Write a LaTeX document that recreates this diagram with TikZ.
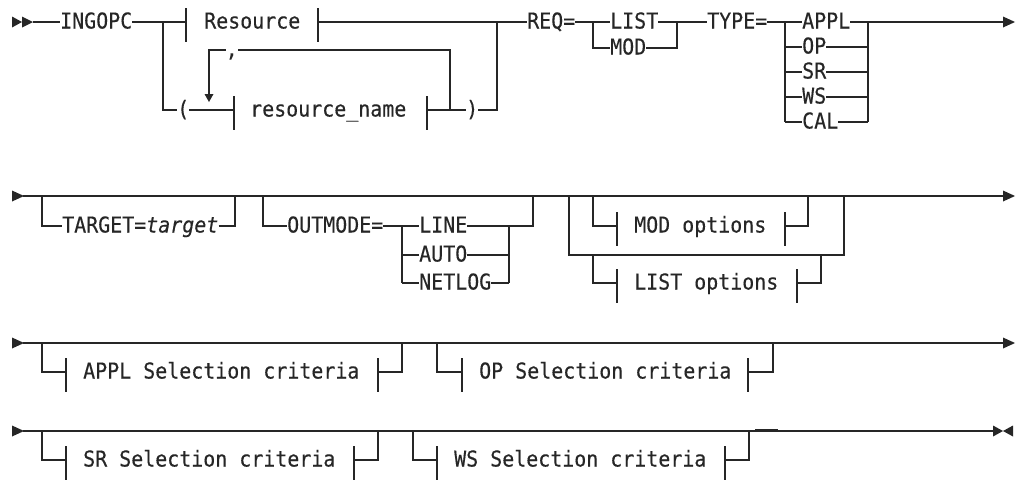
\documentclass[tikz,border=0pt]{standalone}
\usepackage{fontspec}
\newfontfamily\rrfont[FakeStretch=0.915,FakeBold=0.3]{DejaVu Sans Mono}
\definecolor{ink}{HTML}{262626}
\tikzset{
  rr/.style={draw=ink, line width=1.6pt},
  txt/.style={inner sep=0pt, text height=13pt, text depth=0pt, anchor=west,
    font=\rrfont\fontsize{21.8pt}{22pt}\selectfont, text=ink},
}
\newcommand\rrtick[1]{\draw[rr] ([yshift=14pt]#1) -- ([yshift=-20pt]#1);}
\newcommand\rrright[2]{\fill[ink] (#1-12,#2-5.5) -- (#1,#2) -- (#1-12,#2+5.5) -- cycle;}
\begin{document}
\begin{tikzpicture}[x=1pt,y=-1pt]
\useasboundingbox (0,0) rectangle (1018,480);
% ---------------- Row 1 ----------------
\fill[ink] (12,16.5) -- (22,22) -- (12,27.5) -- cycle;
\fill[ink] (22,16.5) -- (33,22) -- (22,27.5) -- cycle;
\coordinate (s1) at (33,22);
\node[txt] (ingopc) at (60,22) {INGOPC};
\coordinate (b1) at (163,22);
\coordinate (rl) at (186,22);
\coordinate (rr) at (318,22);
\coordinate (j1) at (497,22);
\node[txt] (resource) at (204,22) {Resource};
\draw[rr] (s1) -- (ingopc.west);
\draw[rr] (ingopc.east) -- (b1) -- (rl);
\rrtick{rl}
\rrtick{rr}
\draw[rr] (rr) -- (j1);
% repeat group
\node[txt] (p1) at (177,110) {(};
\node[txt] (rname) at (250,110) {resource\_name};
\node[txt] (p2) at (466,110) {)};
\node[txt] (comma) at (225.5,50) {,};
\coordinate (rnl) at (234,110);
\coordinate (rnr) at (427,110);
\coordinate (lp) at (450,110);
\coordinate (lpt) at (450,50);
\coordinate (dn) at (209,50);
\coordinate (dnb) at (209,95);
\draw[rr] (b1) -- (163,110) -- (p1.west);
\draw[rr] (p1.east) -- (rnl);
\rrtick{rnl}
\rrtick{rnr}
\draw[rr] (rnr) -- (lp) -- (p2.west);
\draw[rr] (p2.east) -- (497,110) -- (j1);
\draw[rr] (lp) -- (lpt) -- (comma.east);
\draw[rr] (comma.west) -- (dn) -- (dnb);
\fill[ink] (204.5,94) -- (213.5,94) -- (209,102) -- cycle;
% REQ
\node[txt] (req) at (527,22) {REQ=};
\coordinate (b2) at (593,22);
\coordinate (m2) at (677,22);
\node[txt] (list) at (610,22) {LIST};
\node[txt] (mod) at (610,48) {MOD};
\draw[rr] (j1) -- (req.west);
\draw[rr] (req.east) -- (b2) -- (list.west);
\draw[rr] (list.east) -- (m2);
\draw[rr] (b2) -- (593,48) -- (mod.west);
\draw[rr] (mod.east) -- (677,48) -- (m2);
% TYPE
\node[txt] (type) at (707,22) {TYPE=};
\coordinate (b3) at (785,22);
\coordinate (m3) at (868,22);
\coordinate (e1) at (1004,22);
\draw[rr] (m2) -- (type.west);
\draw[rr] (type.east) -- (b3);
\foreach \lab/\yy in {APPL/22, OP/47, SR/72, WS/97, CAL/122}{
  \node[txt] (t\lab) at (802,\yy) {\lab};
  \draw[rr] (785,\yy) -- (t\lab.west);
  \draw[rr] (t\lab.east) -- (868,\yy);
}
\draw[rr] (b3) -- (785,122);
\draw[rr] (m3) -- (868,122);
\draw[rr] (m3) -- (e1);
\rrright{1015}{22}
% ---------------- Row 2 ----------------
\rrright{24}{196}
\coordinate (s2) at (23,196);
\coordinate (e2) at (1004,196);
\draw[rr] (s2) -- (e2);
\rrright{1015}{196}
\node[txt] (target) at (62,226) {TARGET=\itshape target};
\draw[rr] (42,196) -- (42,226) -- (target.west);
\draw[rr] (target.east) -- (235,226) -- (235,196);
\node[txt] (outmode) at (287,226) {OUTMODE=};
\draw[rr] (263,196) -- (263,226) -- (outmode.west);
\draw[rr] (outmode.east) -- (402,226);
\foreach \lab/\yy in {LINE/226, AUTO/255, NETLOG/283}{
  \node[txt] (o\lab) at (419,\yy) {\lab};
  \draw[rr] (402,\yy) -- (o\lab.west);
  \draw[rr] (o\lab.east) -- (509,\yy);
}
\draw[rr] (402,226) -- (402,283);
\draw[rr] (509,226) -- (509,283);
\draw[rr] (509,226) -- (533,226) -- (533,196);
\draw[rr] (569,196) -- (569,255) -- (844,255) -- (844,196);
\node[txt] (modopt) at (634,226) {MOD options};
\coordinate (mol) at (617,226);
\coordinate (mor) at (785,226);
\draw[rr] (593,196) -- (593,226) -- (mol);
\rrtick{mol}
\rrtick{mor}
\draw[rr] (mor) -- (808,226) -- (808,196);
\node[txt] (listopt) at (634,283) {LIST options};
\coordinate (lol) at (617,283);
\coordinate (lor) at (797,283);
\draw[rr] (593,255) -- (593,283) -- (lol);
\rrtick{lol}
\rrtick{lor}
\draw[rr] (lor) -- (821,283) -- (821,255);
% ---------------- Row 3 ----------------
\rrright{24}{343}
\draw[rr] (23,343) -- (1004,343);
\rrright{1015}{343}
\node[txt] (appl) at (83,372) {APPL Selection criteria};
\coordinate (al) at (66,372);
\coordinate (ar) at (378,372);
\draw[rr] (42,343) -- (42,372) -- (al);
\rrtick{al}
\rrtick{ar}
\draw[rr] (ar) -- (402,372) -- (402,343);
\node[txt] (opsel) at (479,372) {OP Selection criteria};
\coordinate (ol) at (462,372);
\coordinate (or) at (748,372);
\draw[rr] (437,343) -- (437,372) -- (ol);
\rrtick{ol}
\rrtick{or}
\draw[rr] (or) -- (773,372) -- (773,343);
% ---------------- Row 4 ----------------
\rrright{24}{431}
\draw[rr] (23,431) -- (994,431);
\fill[ink] (993,425.5) -- (1003,431) -- (993,436.5) -- cycle;
\fill[ink] (1013,425.5) -- (1003,431) -- (1013,436.5) -- cycle;
\draw[ink, line width=2.4pt] (755,430.2) -- (778,430.2);
\node[txt] (srsel) at (83,460) {SR Selection criteria};
\coordinate (sl) at (66,460);
\coordinate (sr) at (354,460);
\draw[rr] (42,431) -- (42,460) -- (sl);
\rrtick{sl}
\rrtick{sr}
\draw[rr] (sr) -- (378,460) -- (378,431);
\node[txt] (wssel) at (454,460) {WS Selection criteria};
\coordinate (wl) at (437,460);
\coordinate (wr) at (725,460);
\draw[rr] (413,431) -- (413,460) -- (wl);
\rrtick{wl}
\rrtick{wr}
\draw[rr] (wr) -- (749,460) -- (749,431);
\end{tikzpicture}
\end{document}
